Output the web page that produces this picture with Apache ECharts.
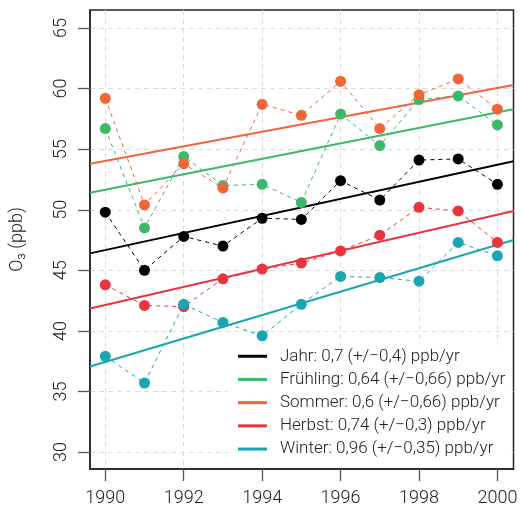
<!DOCTYPE html>
<html>
<head>
<meta charset="utf-8">
<script src="https://cdn.jsdelivr.net/npm/echarts@6/dist/echarts.min.js"></script>
<style>
  html, body { margin: 0; padding: 0; background: #fff; }
  #chart { width: 521px; height: 510px; }
</style>
</head>
<body>
<div id="chart"></div>
<script>
const years = [1990, 1991, 1992, 1993, 1994, 1995, 1996, 1997, 1998, 1999, 2000]
const xTicks = [1990, 1992, 1994, 1996, 1998, 2000]
const yTicks = [30, 35, 40, 45, 50, 55, 60, 65]

const jahr = [49.8, 45.0, 47.8, 47.0, 49.3, 49.2, 52.4, 50.8, 54.1, 54.2, 52.1]
const fruehling = [56.7, 48.5, 54.4, 52.0, 52.1, 50.6, 57.9, 55.3, 59.1, 59.4, 57.0]
const sommer = [59.2, 50.4, 53.8, 51.8, 58.7, 57.8, 60.6, 56.7, 59.5, 60.8, 58.3]
const herbst = [43.8, 42.1, 42.0, 44.3, 45.1, 45.6, 46.6, 47.9, 50.2, 49.9, 47.3]
const winter = [37.9, 35.7, 42.2, 40.7, 39.6, 42.2, 44.5, 44.4, 44.1, 47.3, 46.2]

// trend lines read at the left and right plot edges
const trendLeft = [46.4, 51.4, 53.8, 41.85, 37.06]
const trendRight = [54.0, 58.3, 60.3, 49.9, 47.5]

const names = ['Jahr', 'Frühling', 'Sommer', 'Herbst', 'Winter']
const legendLabels = [
  'Jahr: 0,7 (+/−0,4) ppb/yr',
  'Frühling: 0,64 (+/−0,66) ppb/yr',
  'Sommer: 0,6 (+/−0,66) ppb/yr',
  'Herbst: 0,74 (+/−0,3) ppb/yr',
  'Winter: 0,96 (+/−0,35) ppb/yr'
]
const seriesData = [jahr, fruehling, sommer, herbst, winter]
const colors = ['#000000', '#3db86b', '#f26539', '#e8353e', '#1aa6b0']

const xMin = 1989.61, xMax = 2000.41
const FONT = 'Roboto'

const chart = echarts.init(document.getElementById('chart'), null, { renderer: 'canvas' })

const pointSeries = (i) => ({
  name: names[i],
  type: 'line',
  data: years.map((y, k) => [y, seriesData[i][k]]),
  symbol: 'circle',
  symbolSize: 11,
  lineStyle: { color: colors[i], width: 1, type: [4, 4] },
  itemStyle: { color: colors[i] },
  z: 3
})

const trendSeries = (i) => ({
  name: legendLabels[i],
  type: 'line',
  data: [[xMin, trendLeft[i]], [xMax, trendRight[i]]],
  symbol: 'none',
  lineStyle: { color: colors[i], width: 2 },
  itemStyle: { color: colors[i] },
  z: 2
})

let seriesArr = []
for (let i = 0; i < names.length; i++) {
  seriesArr.push(trendSeries(i))
  seriesArr.push(pointSeries(i))
}

const option = {
  backgroundColor: '#fff',
  animation: false,
  textStyle: { fontFamily: FONT },
  grid: {
    left: 82, right: 7.5, top: 10, bottom: 41,
    show: true, borderColor: '#222', borderWidth: 1.5, backgroundColor: 'transparent'
  },
  legend: {
    data: legendLabels,
    orient: 'vertical',
    left: 228,
    top: 345,
    padding: [2, 3, 8, 10],
    backgroundColor: '#fff',
    icon: 'rect',
    itemWidth: 29,
    itemHeight: 3,
    itemGap: 4.7,
    textStyle: { fontFamily: FONT, fontSize: 17, fontWeight: 300, color: '#222', lineHeight: 18.5, padding: [0, 0, 0, 8] },
    z: 10
  },
  xAxis: {
    type: 'value',
    min: xMin,
    max: xMax,
    axisLine: { show: true, lineStyle: { color: '#222', width: 1.5 } },
    axisTick: { show: true, length: 12, lineStyle: { color: '#555', width: 1.3 }, customValues: xTicks },
    axisLabel: {
      customValues: xTicks, formatter: (v) => String(v),
      fontFamily: FONT, fontSize: 18, fontWeight: 300, color: '#222', margin: 20
    },
    splitLine: { show: true, lineStyle: { color: '#dcdcdc', type: [5, 4], width: 1 } }
  },
  yAxis: {
    type: 'value',
    min: 28.6,
    max: 66.49,
    name: 'O₃ (ppb)',
    nameLocation: 'middle',
    nameGap: 64,
    nameTextStyle: { fontFamily: FONT, fontSize: 18, fontWeight: 300, color: '#222' },
    axisLine: { show: true, lineStyle: { color: '#222', width: 1.5 } },
    axisTick: { show: true, length: 12, lineStyle: { color: '#555', width: 1.3 }, customValues: yTicks },
    axisLabel: {
      customValues: yTicks, formatter: (v) => String(v), rotate: 90,
      fontFamily: FONT, fontSize: 18, fontWeight: 300, color: '#222', margin: 20
    },
    splitLine: { show: true, lineStyle: { color: '#dcdcdc', type: [5, 4], width: 1 } }
  },
  series: seriesArr
}

chart.setOption(option)
</script>
</body>
</html>
